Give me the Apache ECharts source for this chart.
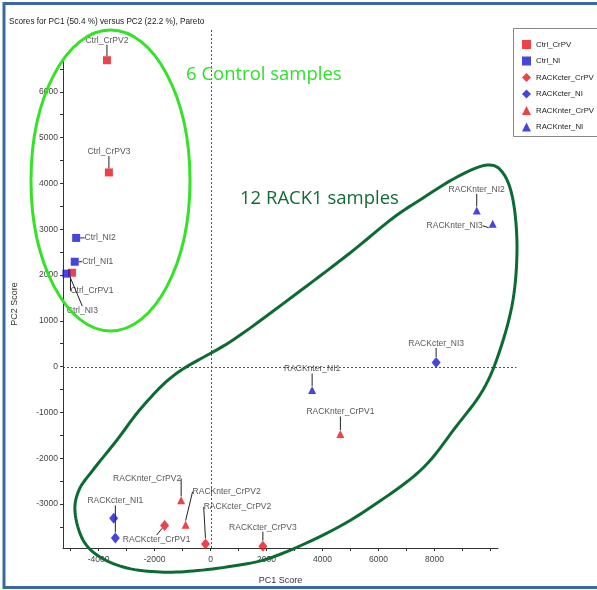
<!DOCTYPE html>
<html>
<head>
<meta charset="utf-8">
<script src="https://cdn.jsdelivr.net/npm/echarts@6/dist/echarts.min.js"></script>
<style>
  html, body { margin: 0; padding: 0; background: #ffffff; }
  #chart { width: 597px; height: 590px; }
</style>
</head>
<body>
<div id="chart"></div>
<script>
// PCA scores, PC1 vs PC2
const ctrlCrPVNames = ['Ctrl_CrPV1', 'Ctrl_CrPV2', 'Ctrl_CrPV3'];
const ctrlCrPVX = [-4950, -3700, -3630];
const ctrlCrPVY = [2050, 6690, 4240];

const ctrlNINames = ['Ctrl_NI1', 'Ctrl_NI2', 'Ctrl_NI3'];
const ctrlNIX = [-4850, -4800, -5150];
const ctrlNIY = [2290, 2810, 2030];

const cterCrPVNames = ['RACKcter_CrPV1', 'RACKcter_CrPV2', 'RACKcter_CrPV3'];
const cterCrPVX = [-1640, -180, 1870];
const cterCrPVY = [-3470, -3870, -3920];

const cterNINames = ['RACKcter_NI1', 'RACKcter_NI2', 'RACKcter_NI3'];
const cterNIX = [-3400, -3460, 8060];
const cterNIY = [-3740, -3310, 90];

const nterCrPVNames = ['RACKnter_CrPV1', 'RACKnter_CrPV2', 'RACKnter_CrPV2'];
const nterCrPVX = [4640, -1050, -890];
const nterCrPVY = [-1470, -2920, -3450];

const nterNINames = ['RACKnter_NI1', 'RACKnter_NI2', 'RACKnter_NI3'];
const nterNIX = [3630, 9510, 10080];
const nterNIY = [-510, 3410, 3120];

const xTickLabels = [-4000, -2000, 0, 2000, 4000, 6000, 8000];
const yTickLabels = [-3000, -2000, -1000, 0, 1000, 2000, 3000, 4000, 5000, 6000];

// axis extents
const X_MIN = -5270, X_MAX = 10270, ZERO_LINE_END = 10930;
const Y_MIN = -3960, Y_MAX = 7350, Y_AXIS_TOP = 6730;

// label placement (offset of label centre from the marker, px); null = label hidden
const labelPlacement = {
  'Ctrl_CrPV': [[20, 18], [0, -20], [0, -21]],
  'Ctrl_NI': [[23, 0], [24, 0], [16, 37]],
  'RACKcter_CrPV': [[-8, 14], [32, -37], [0, -19]],
  'RACKcter_NI': [[0, -37], null, [0, -19]],
  'RACKnter_CrPV': [[0, -22], [-34, -22], [41, -33]],
  'RACKnter_NI': [[0, -21], [0, -21], [-38, 2]]
};

const RED = '#e8141a';
const BLUE = '#1818d4';
const AXIS = '#333';
const SMALL = "'Liberation Sans', Arial, sans-serif";
const DISPLAY = "'Open Sans', sans-serif";

const xTicks = [];
for (let v = -5000; v <= 10000; v += 1000) xTicks.push(v);
const yTicks = [];
for (let v = -3500; v <= 6500; v += 500) yTicks.push(v);

function makeSeries(name, names, xs, ys, symbol, size, color) {
  const place = labelPlacement[name];
  return {
    name: name,
    type: 'scatter',
    symbol: symbol,
    symbolSize: size,
    itemStyle: { color: color },
    data: names.map((n, i) => ({
      name: n,
      value: [xs[i], ys[i]],
      label: { show: place[i] !== null }
    })),
    label: {
      show: true,
      formatter: '{b}',
      position: 'inside',
      color: '#2a2a2a',
      fontSize: 8.5,
      fontFamily: SMALL
    },
    labelLine: { show: true, lineStyle: { color: '#222', width: 1 } },
    labelLayout: function (p) {
      const off = place[p.dataIndex];
      if (!off) return {};
      const cx = p.rect.x + p.rect.width / 2;
      const cy = p.rect.y + p.rect.height / 2;
      return { x: cx + off[0], y: cy + off[1], align: 'center', verticalAlign: 'middle' };
    },
    z: 3
  };
}

// closed Catmull-Rom curve through the given points, sampled as a polygon
function closedCurve(pts, steps) {
  const n = pts.length;
  const out = [];
  for (let i = 0; i < n; i++) {
    const p0 = pts[(i - 1 + n) % n], p1 = pts[i], p2 = pts[(i + 1) % n], p3 = pts[(i + 2) % n];
    for (let s = 0; s < steps; s++) {
      const t = s / steps, t2 = t * t, t3 = t2 * t;
      const f = (a, b, c, d) => 0.5 * (2 * b + (-a + c) * t + (2 * a - 5 * b + 4 * c - d) * t2 + (-a + 3 * b - 3 * c + d) * t3);
      out.push([f(p0[0], p1[0], p2[0], p3[0]), f(p0[1], p1[1], p2[1], p3[1])]);
    }
  }
  return out;
}

const rackOutline = [
  [487, 165], [503, 173], [513, 200], [517, 247], [513, 300], [500, 350], [483, 390],
  [455, 428], [423, 468], [380, 501], [333, 530], [273, 557], [233, 566], [193, 571],
  [160, 572], [127, 568], [100, 557], [83, 540], [75, 512], [79, 490], [93, 470],
  [117, 440], [143, 406], [177, 373], [233, 340], [300, 291], [350, 253], [393, 218],
  [423, 198], [457, 177]
];

const chart = echarts.init(document.getElementById('chart'), null, { renderer: 'canvas' });

const option = {
  animation: false,
  backgroundColor: '#ffffff',
  title: {
    text: 'Scores for PC1 (50.4 %) versus PC2 (22.2 %), Pareto',
    left: 9, top: 18, padding: 0,
    textStyle: { fontSize: 8.2, fontWeight: 'normal', color: '#222', fontFamily: SMALL }
  },
  legend: {
    orient: 'vertical',
    left: 517, top: 35,
    itemWidth: 9, itemHeight: 9, itemGap: 7.5,
    textStyle: { fontSize: 7.8, color: '#222', fontFamily: SMALL },
    z: 5
  },
  grid: { left: 63, right: 99, top: 30, bottom: 41 },
  xAxis: {
    type: 'value',
    min: X_MIN, max: X_MAX,
    name: 'PC1 Score',
    nameLocation: 'middle',
    nameGap: 28,
    nameTextStyle: { fontSize: 9, color: AXIS, fontFamily: SMALL },
    axisLine: { show: true, onZero: false, lineStyle: { color: AXIS, width: 1 } },
    axisTick: { show: true, length: 3, customValues: xTicks, lineStyle: { color: AXIS } },
    axisLabel: { customValues: xTickLabels, formatter: v => String(v), fontSize: 8.5, color: '#444', margin: 7, fontFamily: SMALL },
    splitLine: { show: false }
  },
  yAxis: {
    type: 'value',
    min: Y_MIN, max: Y_MAX,
    name: 'PC2 Score',
    nameLocation: 'middle',
    nameGap: 44,
    nameRotate: 90,
    nameTextStyle: { fontSize: 9, color: AXIS, fontFamily: SMALL, padding: [0, 30, 0, 0] },
    axisLine: { show: false, onZero: false },
    axisTick: { show: true, length: 3, customValues: yTicks, lineStyle: { color: AXIS } },
    axisLabel: { customValues: yTickLabels, formatter: v => String(v), fontSize: 8.5, color: '#444', margin: 5, fontFamily: SMALL },
    splitLine: { show: false }
  },
  series: [
    makeSeries('Ctrl_CrPV', ctrlCrPVNames, ctrlCrPVX, ctrlCrPVY, 'rect', 8, RED),
    makeSeries('Ctrl_NI', ctrlNINames, ctrlNIX, ctrlNIY, 'rect', 8, BLUE),
    makeSeries('RACKcter_CrPV', cterCrPVNames, cterCrPVX, cterCrPVY, 'diamond', [9, 11], RED),
    makeSeries('RACKcter_NI', cterNINames, cterNIX, cterNIY, 'diamond', [9, 11], BLUE),
    makeSeries('RACKnter_CrPV', nterCrPVNames, nterCrPVX, nterCrPVY, 'triangle', [8, 8], RED),
    makeSeries('RACKnter_NI', nterNINames, nterNIX, nterNIY, 'triangle', [8, 8], BLUE)
  ],
  graphic: {
    elements: [
      {
        id: 'frame', type: 'rect', z: 0,
        shape: { x: 4, y: 3.5, width: 700, height: 584 },
        style: { fill: 'none', stroke: '#3b68a5', lineWidth: 3 }
      },
      {
        id: 'legendBox', type: 'rect', z: 1,
        shape: { x: 513.5, y: 28.5, width: 100, height: 108 },
        style: { fill: '#ffffff', stroke: '#888', lineWidth: 1 }
      },
      {
        id: 'ctrlRing', type: 'ellipse', z: 10,
        shape: { cx: 110.5, cy: 180.5, rx: 79.5, ry: 150.5 },
        style: { fill: 'none', stroke: '#33e324', lineWidth: 3 }
      },
      {
        id: 'rackRing', type: 'polygon', z: 10,
        shape: { points: closedCurve(rackOutline, 8) },
        style: { fill: 'none', stroke: '#0b6b32', lineWidth: 3, lineJoin: 'round' }
      },
      {
        id: 'ctrlNote', type: 'text', z: 10, x: 186, y: 75,
        style: { text: '6 Control samples', fill: '#2fe02a', fontSize: 18.5, fontFamily: DISPLAY, verticalAlign: 'middle' }
      },
      {
        id: 'rackNote', type: 'text', z: 10, x: 240, y: 199,
        style: { text: '12 RACK1 samples', fill: '#126b36', fontSize: 18.5, fontFamily: DISPLAY, verticalAlign: 'middle' }
      }
    ]
  }
};

chart.setOption(option);

// y axis line and the dashed zero lines, placed through the axes' own scales
const toPx = v => chart.convertToPixel({ gridIndex: 0 }, v);
const yTop = toPx([X_MIN, Y_AXIS_TOP]);
const yBottom = toPx([X_MIN, Y_MIN]);
const hStart = toPx([X_MIN, 0]);
const hEnd = toPx([ZERO_LINE_END, 0]);
const vTop = toPx([0, Y_MAX]);
const vBottom = toPx([0, Y_MIN]);
const dashed = { stroke: '#555', lineWidth: 1, lineDash: [2, 2] };
const snap = v => Math.round(v) + 0.5;

chart.setOption({
  graphic: {
    elements: [
      {
        id: 'yAxisLine', type: 'line', z: 2, silent: true,
        shape: { x1: snap(yTop[0]), y1: yTop[1], x2: snap(yBottom[0]), y2: yBottom[1] },
        style: { stroke: AXIS, lineWidth: 1 }
      },
      {
        id: 'zeroH', type: 'line', z: 1, silent: true,
        shape: { x1: hStart[0], y1: snap(hStart[1]), x2: hEnd[0], y2: snap(hEnd[1]) },
        style: dashed
      },
      {
        id: 'zeroV', type: 'line', z: 1, silent: true,
        shape: { x1: snap(vTop[0]), y1: vTop[1], x2: snap(vBottom[0]), y2: vBottom[1] },
        style: dashed
      }
    ]
  }
});
</script>
</body>
</html>
